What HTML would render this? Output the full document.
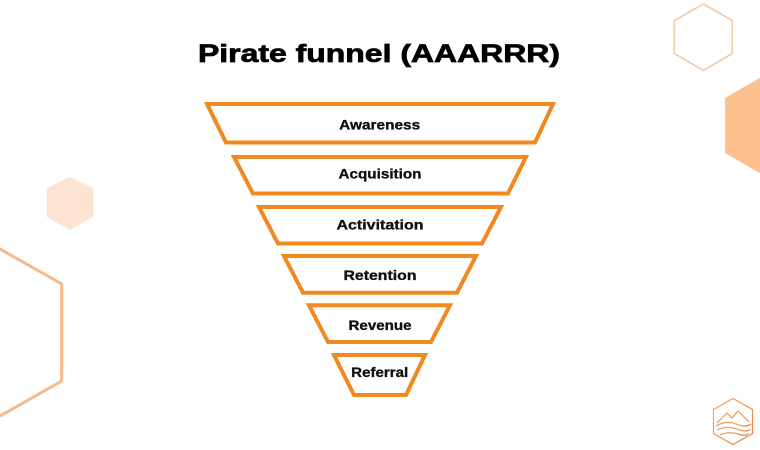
<!DOCTYPE html>
<html>
<head>
<meta charset="utf-8">
<style>
  html, body { margin:0; padding:0; background:#ffffff; }
  body { width:760px; height:450px; overflow:hidden; }
  svg { display:block; }
  .lbl { font-family:"Liberation Sans", Arial, sans-serif; font-weight:bold; font-size:14px; fill:#111111; stroke:#111111; stroke-width:0.35; }
  .ttl { font-family:"Liberation Sans", Arial, sans-serif; font-weight:bold; font-size:25px; fill:#000000; stroke:#000000; stroke-width:0.7; }
</style>
</head>
<body>
<svg width="760" height="450" viewBox="0 0 760 450" xmlns="http://www.w3.org/2000/svg">
  <defs>
    <linearGradient id="lg" x1="0" y1="0" x2="1" y2="1">
      <stop offset="0" stop-color="#f7a04a"/>
      <stop offset="1" stop-color="#e8702a"/>
    </linearGradient>
  </defs>

  <!-- background hexagons -->
  <polygon points="703.3,4 732.3,20.5 732.3,53.5 703.3,70.5 674.3,53.5 674.3,20.5" fill="none" stroke="#f6caa2" stroke-width="1.6"/>
  <polygon points="725,98 772,71 800,98 800,153 772,180 725,153" fill="#fcc08e"/>
  <polygon points="70,176.7 93.3,188.3 93.3,216.7 70,230 46.7,216.7 46.7,188.3" fill="#fde3d2"/>
  <polygon points="-30,232 61.7,284 61.7,381 -30,433" fill="none" stroke="#f6ba8a" stroke-width="3"/>

  <!-- logo -->
  <g fill="none" stroke="url(#lg)" stroke-width="1.2" opacity="0.9">
    <polygon points="733,398.5 752.5,409.5 752.5,433.5 733,444.5 713.5,433.5 713.5,409.5"/>
    <polyline points="717,423 727,413 732,418 738,411 749,422"/>
    <path d="M716,426 Q726,420 736,424 T751,424"/>
    <path d="M717,430 Q727,425 737,429 T750,429"/>
    <path d="M720,435 Q729,431 738,434 T748,433"/>
  </g>

  <!-- title -->
  <text class="ttl" x="379" y="62" text-anchor="middle" textLength="362" lengthAdjust="spacingAndGlyphs">Pirate funnel (AAARRR)</text>

  <!-- funnel -->
  <g fill="#ffffff" stroke="#f0891f" stroke-width="4" stroke-linejoin="miter">
    <polygon points="207,104 553,104 535,142.5 226,142.5"/>
    <polygon points="234,157 526,157 508,193.5 253,193.5"/>
    <polygon points="259,207 501,207 482,243.5 278,243.5"/>
    <polygon points="284,256 476,256 457,292.7 303,292.7"/>
    <polygon points="309,305.3 450,305.3 431,342 328,342"/>
    <polygon points="334,355 425,355 406,395 354,395"/>
  </g>

  <!-- labels -->
  <text class="lbl" x="379.7" y="129.3" text-anchor="middle" textLength="81" lengthAdjust="spacingAndGlyphs">Awareness</text>
  <text class="lbl" x="380" y="178.5" text-anchor="middle" textLength="83" lengthAdjust="spacingAndGlyphs">Acquisition</text>
  <text class="lbl" x="380" y="229.3" text-anchor="middle" textLength="87" lengthAdjust="spacingAndGlyphs">Activitation</text>
  <text class="lbl" x="380" y="280" text-anchor="middle" textLength="73" lengthAdjust="spacingAndGlyphs">Retention</text>
  <text class="lbl" x="380" y="330" text-anchor="middle" textLength="63" lengthAdjust="spacingAndGlyphs">Revenue</text>
  <text class="lbl" x="379.7" y="377" text-anchor="middle" textLength="57" lengthAdjust="spacingAndGlyphs">Referral</text>
</svg>
</body>
</html>
